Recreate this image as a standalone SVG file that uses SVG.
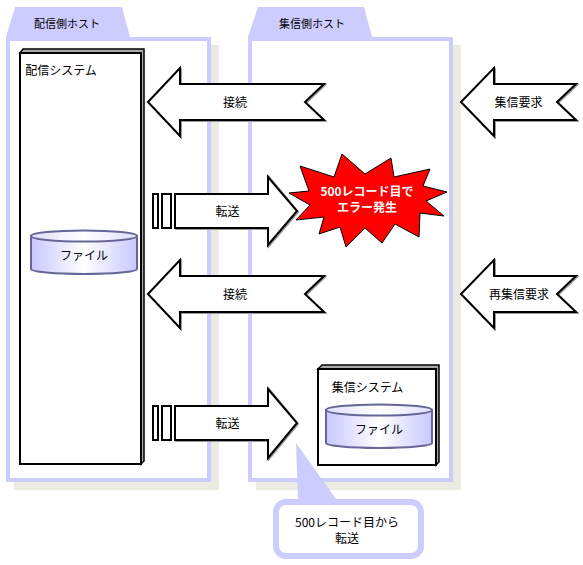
<svg xmlns="http://www.w3.org/2000/svg" width="583" height="565" viewBox="0 0 583 565">
<style>
text{font-family:"Noto Sans CJK JP","Liberation Sans",sans-serif;font-size:12px;fill:#000;text-anchor:middle}
.shadow{fill:#ecebe2}
.frame{fill:#fff;stroke:#ccccff;stroke-width:4}
.tab{fill:#ccccff}
.box{fill:#fff;stroke:#000;stroke-width:2}
.side{fill:#aaa;stroke:#000;stroke-width:1.5}
.arrow{fill:#fff;stroke:#000;stroke-width:2;stroke-linejoin:miter;stroke-miterlimit:8}
.ash{fill:none;stroke:#999;stroke-width:2;stroke-linejoin:miter}
.cyl{fill:url(#cg);stroke:#666699;stroke-width:2}
.cyltop{fill:url(#ct);stroke:#666699;stroke-width:2}
.w{fill:#fff;font-weight:bold}
.hd{font-size:11px}
</style>
<defs>
<linearGradient id="cg"><stop offset="0" stop-color="#c8c8ff"/><stop offset="0.5" stop-color="#fff"/><stop offset="1" stop-color="#c8c8ff"/></linearGradient>
<linearGradient id="ct"><stop offset="0" stop-color="#e0e0ff"/><stop offset="0.5" stop-color="#fff"/><stop offset="1" stop-color="#e0e0ff"/></linearGradient>
</defs>
<g id="host-delivery">
<rect class="shadow" x="14" y="45" width="205" height="445"/>
<polygon class="tab" points="6,37 15,7 122,7 130,37"/>
<rect class="frame" x="8" y="39" width="201" height="441"/>
<text class="hd" x="67" y="28">配信側ホスト</text>
</g>
<g id="host-collection">
<rect class="shadow" x="256" y="45" width="205" height="445"/>
<polygon class="tab" points="248,37 258,7 364,7 372,37"/>
<rect class="frame" x="250" y="39" width="201" height="441"/>
<text class="hd" x="312" y="28">集信側ホスト</text>
</g>
<g id="system-delivery">
<polygon class="side" points="20,53 23,49 144,49 144,461 141,464 141,53"/>
<rect class="box" x="20" y="53" width="121" height="411"/>
<text x="61" y="75">配信システム</text>
</g>
<g id="file-delivery">
<path class="cyl" d="M31,236V269A53,5 0 0 0 137,269V236Z"/>
<ellipse class="cyltop" cx="84" cy="236" rx="53" ry="5.500"/>
<text x="84" y="260">ファイル</text>
</g>
<g id="system-collection">
<polygon class="side" points="318,369 322,365 439,365 439,462 436,465 436,369"/>
<rect class="box" x="318" y="369" width="118" height="96"/>
<text x="367.500" y="392">集信システム</text>
</g>
<g id="file-collection">
<path class="cyl" d="M326,410V443A53,5 0 0 0 432,443V410Z"/>
<ellipse class="cyltop" cx="379" cy="410" rx="53" ry="5.500"/>
<text x="379" y="434">ファイル</text>
</g>
<g id="connectors">
<g id="connect-1">
<polygon class="ash" points="149,103 181,70 181,85 325,85 306,103 325,121 181,121 181,137"/>
<polygon class="arrow" points="148,102 180,68 180,84 324,84 305,102 324,120 180,120 180,136"/>
<text x="235" y="107">接続</text>
</g>
<g id="connect-2">
<polygon class="ash" points="149,295 181,261 181,277 325,277 306,295 325,313 181,313 181,329"/>
<polygon class="arrow" points="148,294 180,260 180,276 324,276 305,294 324,312 180,312 180,328"/>
<text x="235" y="299">接続</text>
</g>
<g id="request">
<polygon class="ash" points="462,103 495,70 495,85 577,85 558,103 577,121 495,121 495,137"/>
<polygon class="arrow" points="461,102 494,68 494,84 576,84 557,102 576,120 494,120 494,136"/>
<text x="518.500" y="107">集信要求</text>
</g>
<g id="re-request">
<polygon class="ash" points="462,295 495,261 495,277 577,277 558,295 577,313 495,313 495,329"/>
<polygon class="arrow" points="461,294 494,260 494,276 576,276 557,294 576,312 494,312 494,328"/>
<text x="519" y="299">再集信要求</text>
</g>
<g id="transfer-1">
<rect class="arrow" x="153" y="194" width="5" height="34"/>
<rect class="arrow" x="162" y="194" width="9" height="34"/>
<polygon class="ash" points="176,195 269,195 269,177 298,212 269,246 269,229 176,229"/>
<polygon class="arrow" points="175,194 268,194 268,177 297,211 268,245 268,228 175,228"/>
<text x="227.500" y="216">転送</text>
</g>
<g id="transfer-2">
<rect class="arrow" x="153" y="406" width="5" height="34"/>
<rect class="arrow" x="162" y="406" width="9" height="34"/>
<polygon class="ash" points="176,407 269,407 269,389 298,424 269,459 269,441 176,441"/>
<polygon class="arrow" points="175,406 268,406 268,389 297,423 268,458 268,440 175,440"/>
<text x="227.500" y="428">転送</text>
</g>
</g>
<g id="error-burst">
<polygon fill="#ff0000" stroke="#000" stroke-width="1" points="342,154 365,174 391,158 394,177 430,169 423,186 447,192 426,201 444,216 420,213 419,237 395,224 382,243 365,228 346,247 340,227 319,234 324,217 296,220 310,205 289,193 309,191 300,166 334,177"/>
<text class="w" x="367" y="196"><tspan x="367">500レコード目で</tspan><tspan x="367" dy="16">エラー発生</tspan></text>
</g>
<g id="note">
<polygon class="tab" points="296,443 336,499 298,499"/>
<rect x="276" y="502" width="145" height="54" rx="10" fill="#fff" stroke="#ccccff" stroke-width="6"/>
<text x="347" y="527"><tspan x="347">500レコード目から</tspan><tspan x="347" dy="16">転送</tspan></text>
</g>
</svg>
